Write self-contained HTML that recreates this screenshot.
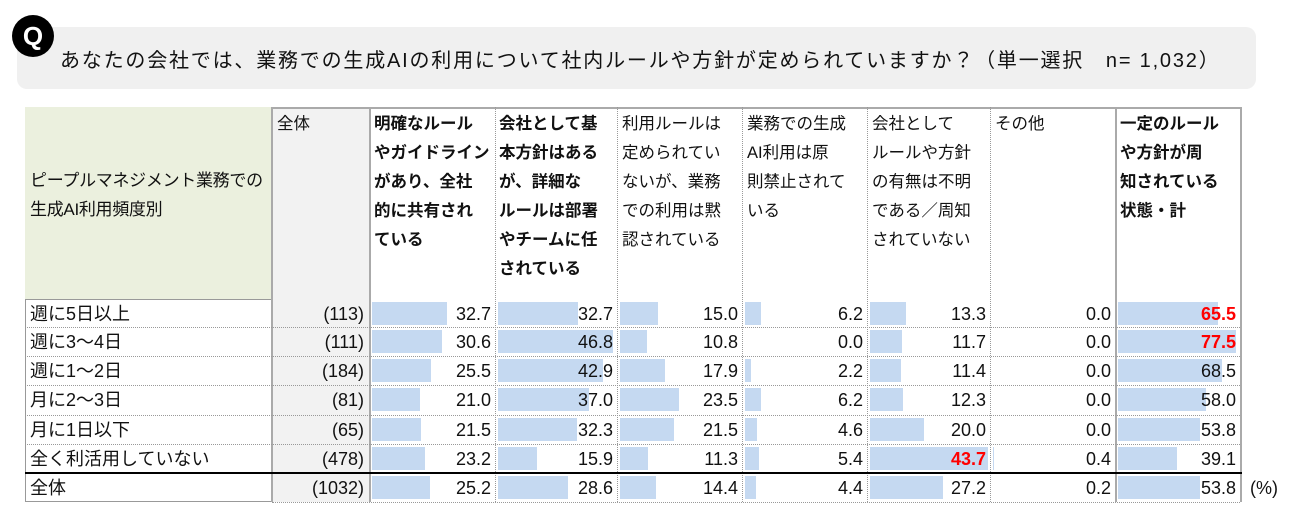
<!DOCTYPE html>
<html><head><meta charset="utf-8"><style>
body{margin:0;width:1300px;height:521px;background:#fff;position:relative;overflow:hidden;font-family:"Liberation Sans","Noto Sans CJK JP",sans-serif;color:#111}
.a{position:absolute}
.qbox{left:17px;top:27px;width:1239px;height:62px;background:#f0f0f0;border-radius:10px}
.qc{left:12px;top:15px;width:42px;height:42px;border-radius:50%;background:#000;color:#fff;font-weight:bold;font-size:26px;text-align:center;line-height:42px}
.title{left:60px;top:44px;font-size:20px;letter-spacing:1.8px;white-space:nowrap}
.hd{font-size:16.5px;line-height:29px;white-space:pre;}
.cell{position:absolute;height:29px}
.bar{position:absolute;top:3px;height:23px;background:#c5d9f1}
.num{position:absolute;right:4px;top:0;font-size:18px;line-height:30px}
.vl{position:absolute;border-left:1px dotted #999}
.hl{position:absolute;border-top:1px dotted #999;height:0}
</style></head><body>
<div class="a qbox"></div>
<div class="a qc">Q</div>
<div class="a title">あなたの会社では、業務での生成AIの利用について社内ルールや方針が定められていますか？（単一選択　n= 1,032）</div>

<div class="a" style="left:25px;top:107px;width:247px;height:192px;background:#ebf0de"></div>
<div class="a hd" style="left:30px;top:166px;font-size:17px;letter-spacing:-0.3px">ピープルマネジメント業務での
生成AI利用頻度別</div>
<div class="a" style="left:272px;top:107px;width:97px;height:395px;background:#f2f2f2"></div>
<div class="a" style="left:25px;top:299px;width:245px;height:201px;border:1px solid #999;background:#fff"></div>
<div class="a" style="left:271px;top:107px;width:0;height:395px;border-left:2px solid #aaa"></div>
<div class="a" style="left:369px;top:107px;width:0;height:395px;border-left:2px solid #aaa"></div>
<div class="a" style="left:1115px;top:107px;width:0;height:395px;border-left:2px solid #aaa"></div>
<div class="a" style="left:1240px;top:107px;width:0;height:395px;border-left:2px solid #aaa"></div>
<div class="a" style="left:271px;top:107px;width:971px;height:0;border-top:2px solid #aaa"></div>
<div class="vl" style="left:495px;top:107px;height:395px"></div>
<div class="vl" style="left:617px;top:107px;height:395px"></div>
<div class="vl" style="left:742px;top:107px;height:395px"></div>
<div class="vl" style="left:867px;top:107px;height:395px"></div>
<div class="vl" style="left:990px;top:107px;height:395px"></div>

<div class="a hd" style="left:277px;top:110px">全体</div>
<div class="a hd" style="left:374px;top:110px;font-weight:bold">明確なルール
やガイドライン
があり、全社
的に共有され
ている</div>
<div class="a hd" style="left:499px;top:110px;font-weight:bold">会社として基
本方針はある
が、詳細な
ルールは部署
やチームに任
されている</div>
<div class="a hd" style="left:622px;top:110px">利用ルールは
定められてい
ないが、業務
での利用は黙
認されている</div>
<div class="a hd" style="left:747px;top:110px">業務での生成
AI利用は原
則禁止されて
いる</div>
<div class="a hd" style="left:872px;top:110px">会社として
ルールや方針
の有無は不明
である／周知
されていない</div>
<div class="a hd" style="left:995px;top:110px">その他</div>
<div class="a hd" style="left:1120px;top:110px;font-weight:bold">一定のルール
や方針が周
知されている
状態・計</div>

<div id="rows"></div>
<div class="a" style="left:25px;top:472px;width:1217px;height:0;border-top:2px solid #000"></div>
<div class="a" style="left:1250px;top:473px;font-size:18px;line-height:30px">(%)</div>
<script>
var rows=[["週に5日以上","(113)",[32.7,32.7,15.0,6.2,13.3,0.0,65.5],[6]],
["週に3～4日","(111)",[30.6,46.8,10.8,0.0,11.7,0.0,77.5],[6]],
["週に1～2日","(184)",[25.5,42.9,17.9,2.2,11.4,0.0,68.5],[]],
["月に2～3日","(81)",[21.0,37.0,23.5,6.2,12.3,0.0,58.0],[]],
["月に1日以下","(65)",[21.5,32.3,21.5,4.6,20.0,0.0,53.8],[]],
["全く利活用していない","(478)",[23.2,15.9,11.3,5.4,43.7,0.4,39.1],[4]],
["全体","(1032)",[25.2,28.6,14.4,4.4,27.2,0.2,53.8],[]]];
var xs=[369,495,617,742,867,990,1115,1240];
var sc=[2.3,2.45,2.5,2.5,2.7,2.5,1.52];
var ys=[299,327,356,385,415,444,473];
var h="";
rows.forEach(function(r,i){
 var y=ys[i];
 if(i>0&&i<6) h+='<div class="hl" style="left:25px;top:'+y+'px;width:1215px"></div>';
 h+='<div class="a" style="left:30px;top:'+y+'px;font-size:18px;line-height:30px">'+r[0]+'</div>';
 h+='<div class="a" style="left:272px;width:92px;text-align:right;top:'+y+'px;font-size:18px;line-height:30px">'+r[1]+'</div>';
 for(var c=0;c<7;c++){
  var w=Math.min(r[2][c]*sc[c],xs[c+1]-xs[c]-5);
  var red=r[3].indexOf(c)>=0;
  h+='<div class="cell" style="left:'+(xs[c]+1)+'px;top:'+y+'px;width:'+(xs[c+1]-xs[c]-1)+'px">'+
   (w>0.5?'<div class="bar" style="left:2px;width:'+w+'px"></div>':'')+
   '<div class="num" style="'+(red?'color:#ff0000;font-weight:bold':'')+'">'+r[2][c].toFixed(1)+'</div></div>';
 }
});
h+='<div class="hl" style="left:272px;top:502px;width:968px"></div>';
document.getElementById("rows").innerHTML=h;
</script>
</body></html>
